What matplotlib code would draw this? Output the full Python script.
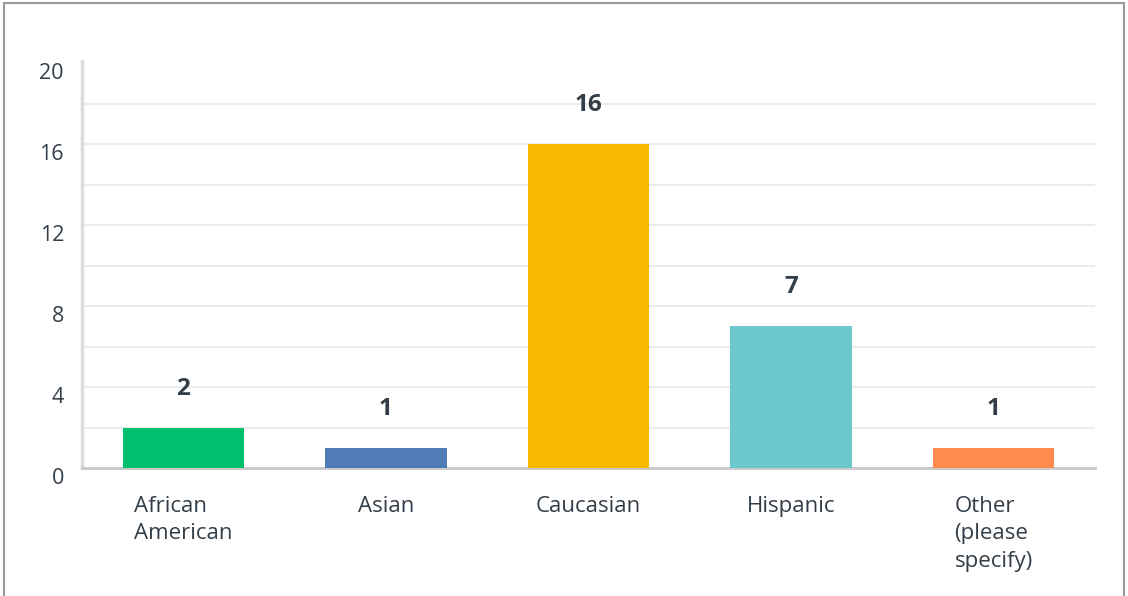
import matplotlib.pyplot as plt
from matplotlib.patches import Rectangle
from matplotlib.transforms import ScaledTranslation
import numpy as np

plt.rcParams['font.family'] = ['Open Sans', 'DejaVu Sans']

# answer categories and response counts
categories = ["African\nAmerican", "Asian", "Caucasian", "Hispanic", "Other\n(please\nspecify)"]
counts = [2, 1, 16, 7, 1]
colors = ["#00bf6f", "#507cb6", "#f6b900", "#6bc8cd", "#ff8b4f"]
yticks = [0, 4, 8, 12, 16, 20]

text_col = "#333e48"

fig = plt.figure(figsize=(11.28, 5.96), dpi=100)
ax = fig.add_axes([82/1128, 1 - 468/596, (1095 - 82)/1128, (468 - 61)/596])

x = np.arange(len(categories))
ax.bar(x, counts, width=0.6, color=colors, zorder=3)

# value labels above each bar
for xi, c in zip(x, counts):
    ax.annotate(str(c), (xi, c), xytext=(0, 28), textcoords="offset points",
                ha="center", va="center", fontsize=17.5, fontweight="bold", color=text_col)

ax.set_xlim(-0.5, len(categories) - 0.5)
ax.set_ylim(0, 20.1)

# light grid every 2 units
for g in range(2, 20, 2):
    ax.axhline(g, color="#ececec", lw=1.5, zorder=1)

ax.set_yticks(yticks)
ax.set_yticklabels([str(t) for t in yticks])
ax.set_xticks(x)
ax.set_xticklabels(categories, multialignment="left", linespacing=1.4)
ax.tick_params(axis="y", length=0, pad=13, labelsize=15.5, labelcolor=text_col)
ax.tick_params(axis="x", length=0, pad=20, labelsize=16, labelcolor=text_col)
for lab in ax.get_yticklabels():
    lab.set_transform(lab.get_transform() + ScaledTranslation(0, -8/100, fig.dpi_scale_trans))
for lab in ax.get_xticklabels():
    lab.set_verticalalignment("top")

for s in ["top", "right"]:
    ax.spines[s].set_visible(False)
ax.spines["left"].set_color("#dcdcdc")
ax.spines["left"].set_linewidth(2.5)
ax.spines["bottom"].set_color("#c8c8c8")
ax.spines["bottom"].set_linewidth(2)

# outer frame
fig.patches.append(Rectangle((4/1128, -0.1), 1120/1128, 1.1 - 3/596, transform=fig.transFigure,
                             fill=False, edgecolor="#9a9a9a", lw=1.5))

fig.savefig("out.png", dpi=100)
